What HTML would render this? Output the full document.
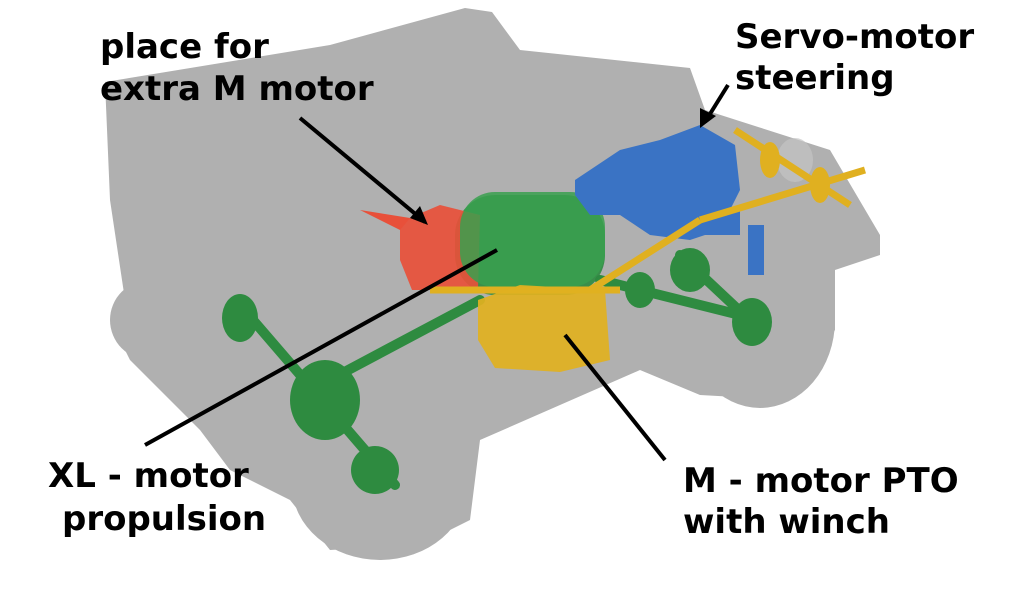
<!DOCTYPE html>
<html><head><meta charset="utf-8"><style>
html,body{margin:0;padding:0;background:#fff;}
svg{display:block;}
text{font-family:"DejaVu Sans","Liberation Sans",sans-serif;font-weight:bold;font-size:34px;fill:#000;}
</style></head><body>
<svg width="1024" height="606" viewBox="0 0 1024 606" xmlns="http://www.w3.org/2000/svg">
<g fill="#b0b0b0">
<polygon points="105,82 330,45 465,8 492,12 520,50 690,68 705,110 830,150 880,235 880,255 835,270 835,330 790,400 700,395 640,370 480,440 470,520 420,545 330,550 290,500 230,470 200,430 130,360 115,330 125,300 110,200"/>
<ellipse cx="760" cy="320" rx="75" ry="88"/>
<ellipse cx="380" cy="485" rx="88" ry="75"/>
<ellipse cx="150" cy="320" rx="40" ry="40"/>
</g>
<g fill="#c4c4c4" opacity="0.7">
<ellipse cx="795" cy="160" rx="18" ry="22"/>
</g>
<g stroke="#2e8b40" stroke-width="10" fill="none" stroke-linecap="round">
<line x1="240" y1="305" x2="395" y2="485"/>
<line x1="320" y1="385" x2="480" y2="300"/>
<line x1="600" y1="280" x2="760" y2="320"/>
<line x1="680" y1="255" x2="760" y2="330"/>
</g>
<g fill="#2e8b40">
<ellipse cx="240" cy="318" rx="18" ry="24"/>
<ellipse cx="375" cy="470" rx="24" ry="24"/>
<ellipse cx="325" cy="400" rx="35" ry="40"/>
<ellipse cx="690" cy="270" rx="20" ry="22"/>
<ellipse cx="752" cy="322" rx="20" ry="24"/>
<rect x="455" y="195" width="150" height="100" rx="40" opacity="0.9"/>
<ellipse cx="640" cy="290" rx="15" ry="18"/>
</g>
<polygon points="400,222 440,205 480,215 478,290 412,290 400,260" fill="#e8503a" opacity="0.92"/>
<polygon points="360,210 410,218 400,230" fill="#e8503a"/>
<rect x="460" y="192" width="145" height="95" rx="35" fill="#3aa04f" opacity="0.85"/>
<g fill="#3a73c4">
<polygon points="575,180 620,150 660,140 700,125 735,145 740,190 720,230 690,240 650,235 620,215 590,215 575,195"/>
<rect x="748" y="225" width="16" height="50"/>
<rect x="690" y="210" width="50" height="25"/>
</g>
<g stroke="#e0b020" stroke-width="7" fill="none">
<line x1="590" y1="290" x2="700" y2="220"/>
<line x1="700" y1="220" x2="865" y2="170"/>
<line x1="735" y1="130" x2="850" y2="205"/>
<line x1="430" y1="290" x2="620" y2="290"/>
</g>
<ellipse cx="770" cy="160" rx="10" ry="18" fill="#e0b020"/>
<ellipse cx="820" cy="185" rx="10" ry="18" fill="#e0b020"/>
<polygon points="478,300 520,285 605,290 610,360 560,372 495,368 478,340" fill="#e0b020" opacity="0.93"/>
<g stroke="#000" stroke-width="4" fill="none">
<line x1="300" y1="118" x2="425" y2="222"/>
<line x1="145" y1="445" x2="497" y2="250"/>
<line x1="665" y1="460" x2="565" y2="335"/>
<line x1="728" y1="85" x2="705" y2="122"/>
</g>
<polygon points="700,128 700,108 716,116" fill="#000"/>
<polygon points="428,225 410,218 420,206" fill="#000"/>
<text x="100" y="58">place for</text>
<text x="100" y="100">extra M motor</text>
<text x="735" y="48">Servo-motor</text>
<text x="735" y="89">steering</text>
<text x="48" y="487">XL - motor</text>
<text x="62" y="530">propulsion</text>
<text x="683" y="492">M - motor PTO</text>
<text x="683" y="533">with winch</text>
</svg>
</body></html>
